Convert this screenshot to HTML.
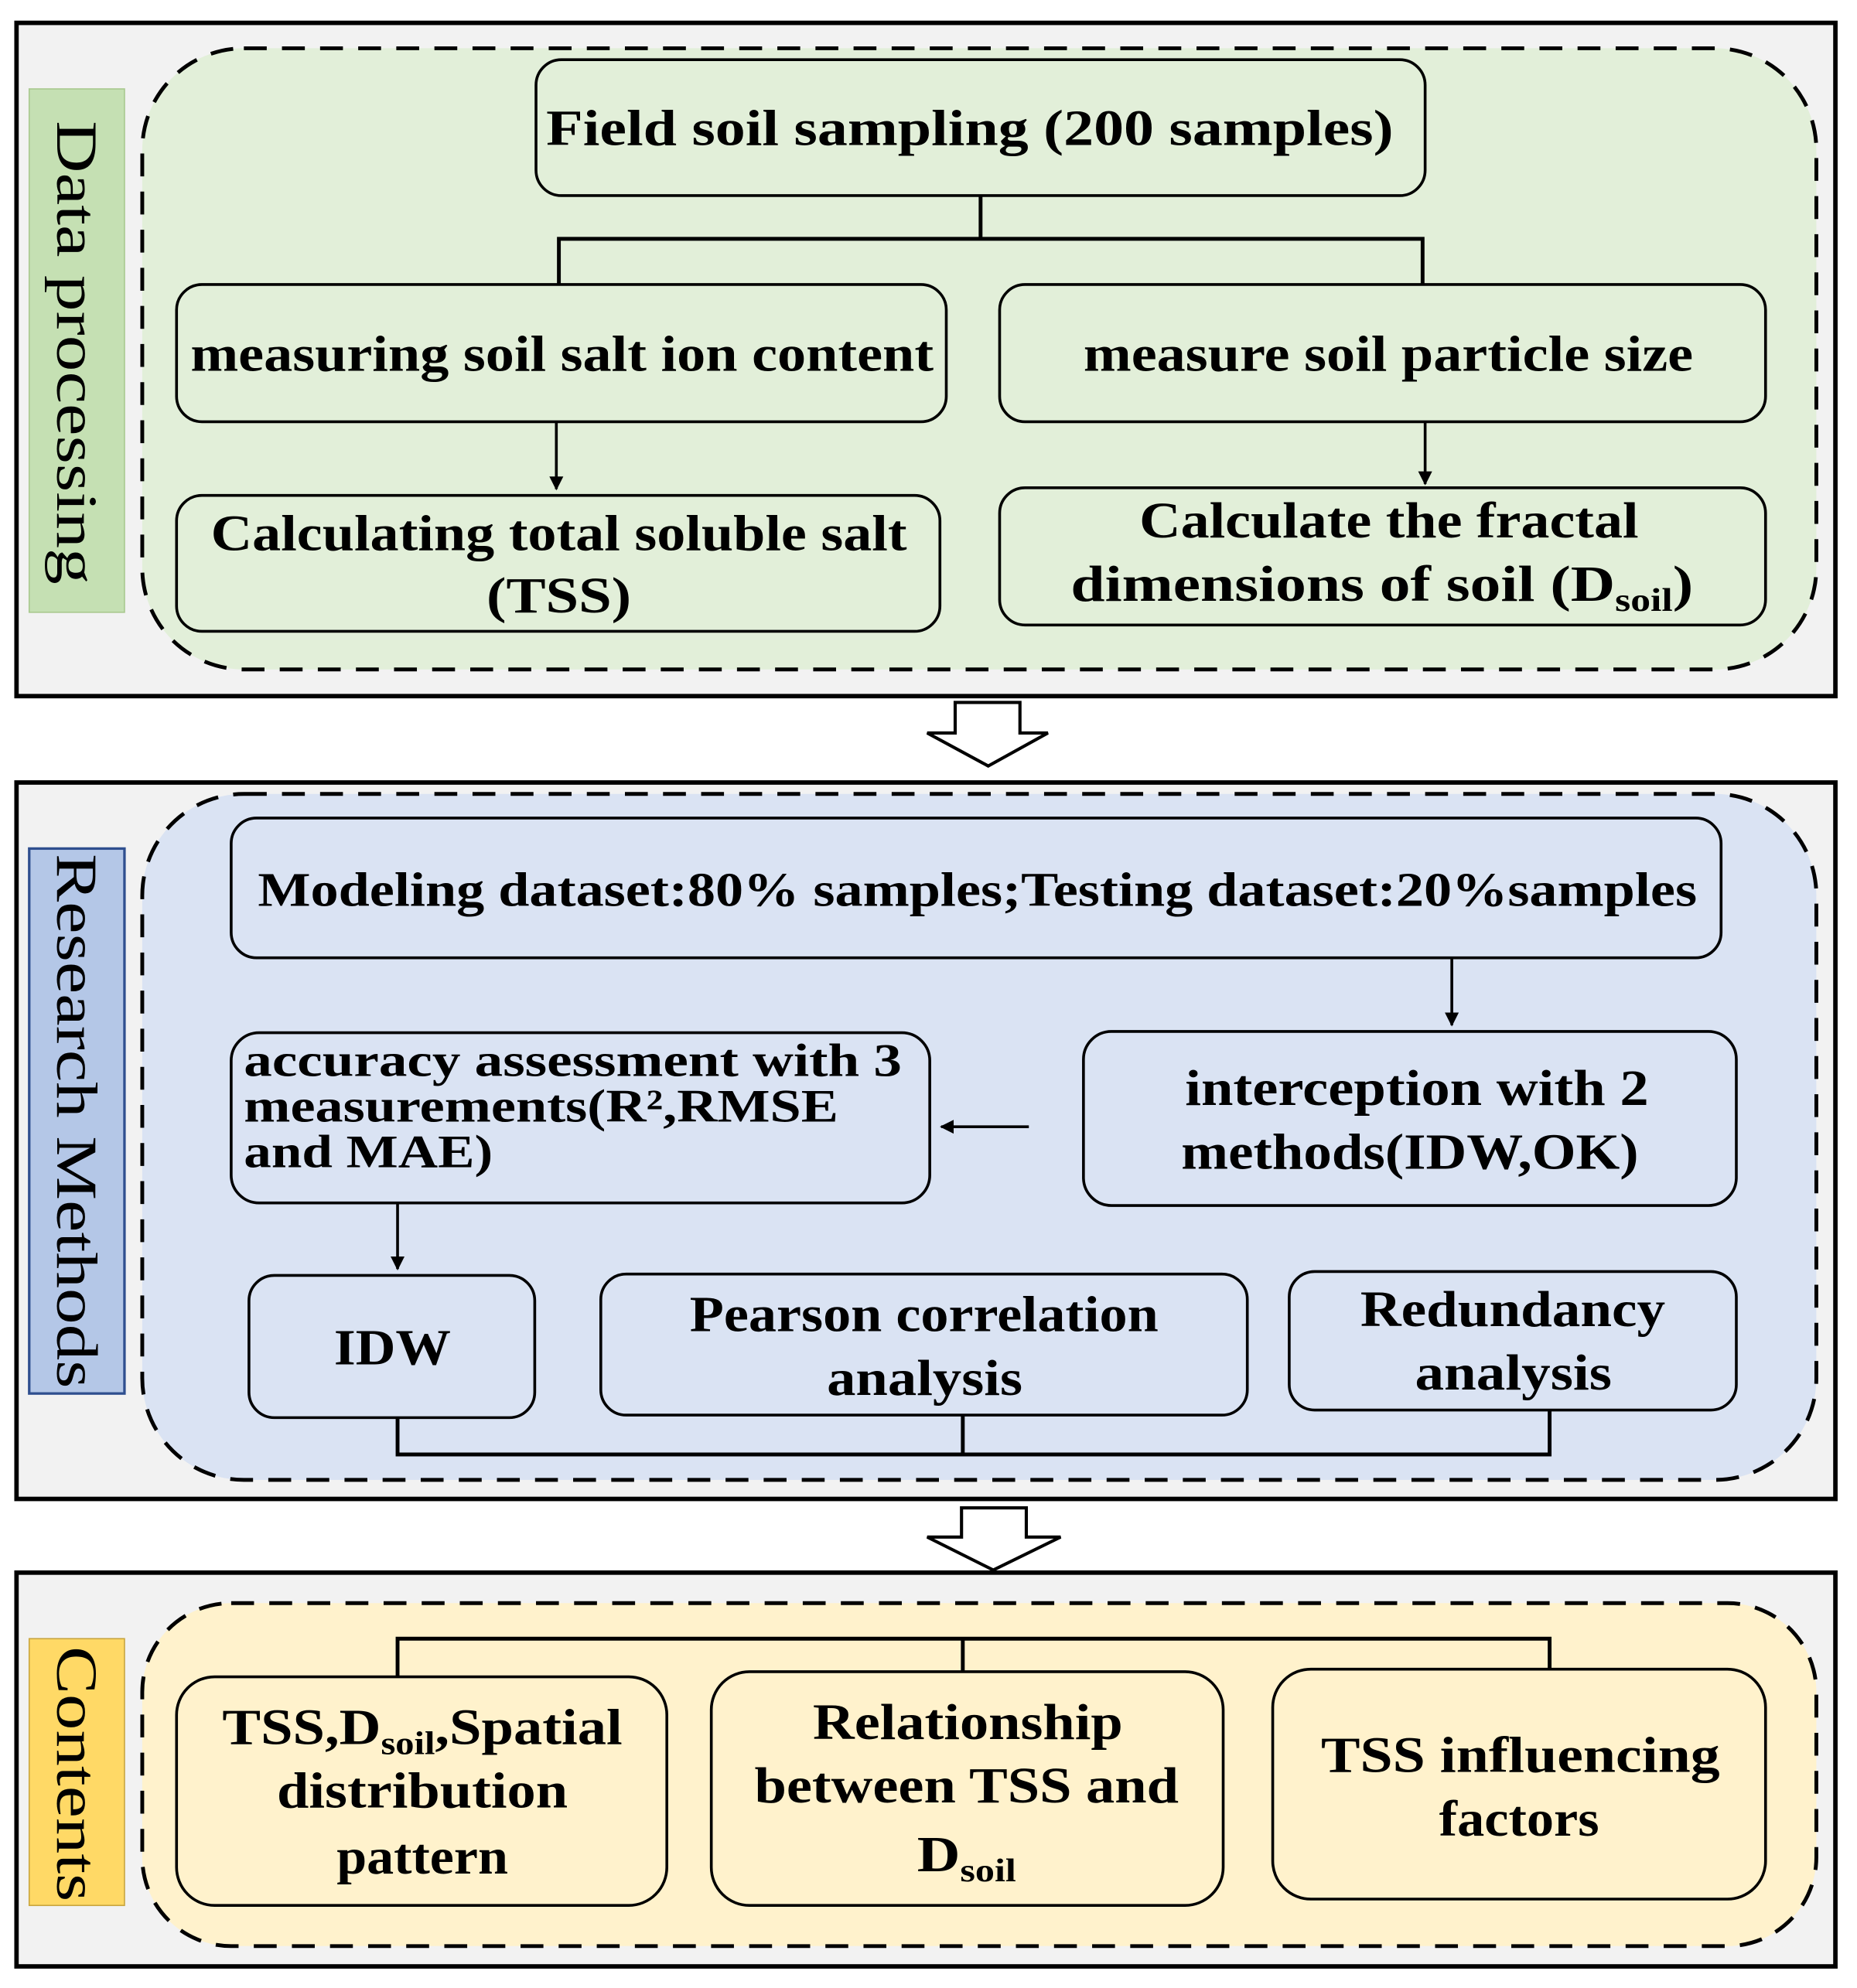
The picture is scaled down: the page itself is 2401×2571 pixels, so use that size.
<!DOCTYPE html>
<html><head><meta charset="utf-8"><style>
html,body{margin:0;padding:0;background:#fff;}
svg{display:block;}
text{font-family:"Liberation Serif",serif;font-weight:bold;fill:#000;}
.lab{font-weight:normal;font-size:46px;}
</style></head><body>
<svg width="2401" height="2571" viewBox="0 0 1462 1565" preserveAspectRatio="none" xmlns="http://www.w3.org/2000/svg">
<defs>
<marker id="ah" viewBox="0 0 10 10" refX="9" refY="5" markerWidth="5" markerHeight="5" orient="auto"><path d="M0,0 L10,5 L0,10 z" fill="#000"/></marker>
</defs>
<rect width="1462" height="1565" fill="#fff"/>
<g stroke="#000" stroke-width="2.2" fill="none">
<!-- Panel 1 -->
<rect x="13" y="18" width="1432" height="530" fill="#f2f2f2" stroke-width="3.5"/>
<rect x="23" y="70" width="75" height="412" fill="#c5e0b3" stroke="#a9c98f" stroke-width="1"/>
<rect x="112" y="38" width="1318" height="489" rx="80" fill="#e2efd9" stroke-dasharray="18,12" stroke-width="3"/>
<rect x="422" y="47" width="700" height="107" rx="20" fill="#e2efd9"/>
<rect x="139" y="224" width="606" height="108" rx="20" fill="#e2efd9"/>
<rect x="787" y="224" width="603" height="108" rx="20" fill="#e2efd9"/>
<rect x="139" y="390" width="601" height="107" rx="20" fill="#e2efd9"/>
<rect x="787" y="384" width="603" height="108" rx="20" fill="#e2efd9"/>
<polyline points="772,154 772,188" stroke-width="3"/>
<polyline points="440,224 440,188 1120,188 1120,224" stroke-width="3"/>
<line x1="438" y1="332" x2="438" y2="385" marker-end="url(#ah)"/>
<line x1="1122" y1="332" x2="1122" y2="381" marker-end="url(#ah)"/>
<!-- arrow 1 -->
<path d="M752,553 L803,553 L803,577 L825,577 L778,603 L730,577 L752,577 Z" fill="#fff" stroke-width="2.5"/>
<!-- Panel 2 -->
<rect x="13" y="616" width="1432" height="564" fill="#f2f2f2" stroke-width="3.5"/>
<rect x="23" y="668" width="75" height="429" fill="#b4c7e7" stroke="#2f4f8f" stroke-width="2"/>
<rect x="112" y="625" width="1318" height="540" rx="80" fill="#dae3f3" stroke-dasharray="18,12" stroke-width="3"/>
<rect x="182" y="644" width="1173" height="110" rx="20" fill="#dae3f3"/>
<rect x="182" y="813" width="550" height="134" rx="22" fill="#dae3f3"/>
<rect x="853" y="812" width="514" height="137" rx="22" fill="#dae3f3"/>
<rect x="196" y="1004" width="225" height="112" rx="20" fill="#dae3f3"/>
<rect x="473" y="1003" width="509" height="111" rx="20" fill="#dae3f3"/>
<rect x="1015" y="1001" width="352" height="109" rx="20" fill="#dae3f3"/>
<line x1="1143" y1="754" x2="1143" y2="807" marker-end="url(#ah)"/>
<line x1="810" y1="887" x2="741" y2="887" marker-end="url(#ah)"/>
<line x1="313" y1="947" x2="313" y2="999" marker-end="url(#ah)"/>
<polyline points="313,1116 313,1145 1220,1145 1220,1110" stroke-width="3"/>
<line x1="758" y1="1114" x2="758" y2="1145" stroke-width="3"/>
<!-- arrow 2 -->
<path d="M757,1187 L808,1187 L808,1210 L835,1210 L782,1236 L730,1210 L757,1210 Z" fill="#fff" stroke-width="2.5"/>
<!-- Panel 3 -->
<rect x="13" y="1238" width="1432" height="310" fill="#f2f2f2" stroke-width="3.5"/>
<rect x="23" y="1290" width="75" height="210" fill="#ffd966" stroke="#c9a640" stroke-width="1"/>
<rect x="112" y="1262" width="1318" height="270" rx="70" fill="#fff2cc" stroke-dasharray="18,12" stroke-width="3"/>
<polyline points="313,1320 313,1290 1220,1290 1220,1314" stroke-width="3"/>
<line x1="758" y1="1290" x2="758" y2="1316" stroke-width="3"/>
<rect x="139" y="1320" width="386" height="180" rx="30" fill="#fff2cc"/>
<rect x="560" y="1316" width="403" height="184" rx="30" fill="#fff2cc"/>
<rect x="1002" y="1314" width="388" height="181" rx="30" fill="#fff2cc"/>
</g>
<!-- labels -->
<text class="lab" transform="translate(45,95) rotate(90)" x="0" y="0" textLength="365" lengthAdjust="spacingAndGlyphs">Data processing</text>
<text class="lab" transform="translate(45,672) rotate(90)" x="0" y="0" textLength="421" lengthAdjust="spacingAndGlyphs">Research Methods</text>
<text class="lab" transform="translate(45,1296) rotate(90)" x="0" y="0" textLength="201" lengthAdjust="spacingAndGlyphs">Contents</text>
<g font-size="40">
<text x="430" y="114" textLength="667" lengthAdjust="spacingAndGlyphs">Field soil sampling   (200 samples)</text>
<text x="150" y="292" textLength="585" lengthAdjust="spacingAndGlyphs">measuring soil salt ion content</text>
<text x="853" y="292" textLength="480" lengthAdjust="spacingAndGlyphs">measure soil particle size</text>
<text x="166" y="433" textLength="548" lengthAdjust="spacingAndGlyphs">Calculating total soluble salt</text>
<text x="383" y="482" textLength="114" lengthAdjust="spacingAndGlyphs">(TSS)</text>
<text x="897" y="423" textLength="393" lengthAdjust="spacingAndGlyphs">Calculate the  fractal</text>
<text x="843" y="473" textLength="490" lengthAdjust="spacingAndGlyphs">dimensions of soil  (D<tspan font-size="26" dy="8">soil</tspan><tspan dy="-8">)</tspan></text>
<text x="203" y="713" font-size="38" textLength="1133" lengthAdjust="spacingAndGlyphs">Modeling dataset:80% samples;Testing dataset:20%samples</text>
<text x="192" y="847" font-size="37" textLength="518" lengthAdjust="spacingAndGlyphs">accuracy assessment with 3</text>
<text x="192" y="883" font-size="37" textLength="468" lengthAdjust="spacingAndGlyphs">measurements(R²,RMSE</text>
<text x="192" y="919" font-size="37" textLength="196" lengthAdjust="spacingAndGlyphs">and MAE)</text>
<text x="933" y="870" textLength="365" lengthAdjust="spacingAndGlyphs">interception with 2</text>
<text x="930" y="920" textLength="360" lengthAdjust="spacingAndGlyphs">methods(IDW,OK)</text>
<text x="263" y="1074" textLength="92" lengthAdjust="spacingAndGlyphs">IDW</text>
<text x="543" y="1048" textLength="369" lengthAdjust="spacingAndGlyphs">Pearson correlation</text>
<text x="651" y="1098" textLength="154" lengthAdjust="spacingAndGlyphs">analysis</text>
<text x="1071" y="1044" textLength="240" lengthAdjust="spacingAndGlyphs">Redundancy</text>
<text x="1114" y="1094" textLength="155" lengthAdjust="spacingAndGlyphs">analysis</text>
<text x="175" y="1373" textLength="315" lengthAdjust="spacingAndGlyphs">TSS,D<tspan font-size="26" dy="8">soil</tspan><tspan dy="-8">,Spatial</tspan></text>
<text x="218" y="1423" textLength="229" lengthAdjust="spacingAndGlyphs">distribution</text>
<text x="265" y="1475" textLength="135" lengthAdjust="spacingAndGlyphs">pattern</text>
<text x="640" y="1369" textLength="244" lengthAdjust="spacingAndGlyphs">Relationship</text>
<text x="594" y="1419" textLength="334" lengthAdjust="spacingAndGlyphs">between TSS and</text>
<text x="722" y="1473" textLength="78" lengthAdjust="spacingAndGlyphs">D<tspan font-size="26" dy="8">soil</tspan></text>
<text x="1040" y="1395" textLength="314" lengthAdjust="spacingAndGlyphs">TSS influencing</text>
<text x="1133" y="1445" textLength="126" lengthAdjust="spacingAndGlyphs">factors</text>
</g>
</svg>
</body></html>
